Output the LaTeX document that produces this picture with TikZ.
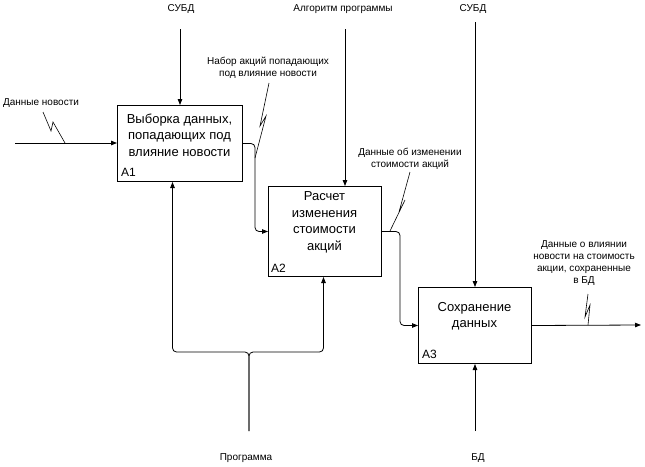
\documentclass[tikz,border=0pt]{standalone}
\usepackage{fontspec}
\setmainfont{Liberation Sans}
\usetikzlibrary{arrows.meta}
\begin{document}
\begin{tikzpicture}[x=1pt,y=-1pt,
  act/.style={draw, line width=1pt, fill=white, inner sep=0pt},
  flow/.style={line width=0.8pt, -{Triangle[length=6pt,width=4.5pt]}, rounded corners=4pt},
  lbl/.style={font=\fontsize{10}{12}\selectfont, align=center, inner sep=0pt},
  boxtxt/.style={font=\fontsize{13}{16.5}\selectfont, align=center, inner sep=0pt},
  boxid/.style={font=\fontsize{12}{14}\selectfont, inner sep=0pt, anchor=base west},
  squig/.style={line width=0.6pt, line join=miter}]
\useasboundingbox (0,0) rectangle (645,466);

% activity boxes
\node[act, minimum width=125pt, minimum height=76pt, anchor=north west] (a1) at (117,105) {};
\node[act, minimum width=113pt, minimum height=90pt, anchor=north west] (a2) at (268,186) {};
\node[act, minimum width=113pt, minimum height=76pt, anchor=north west] (a3) at (418,287) {};

\node[boxtxt] (t1) at (179.5,135) {Выборка данных,\\попадающих под\\влияние новости};
\node[boxtxt] (t2) at (324.5,222.5) {Расчет\\изменения\\стоимости\\акций};
\node[boxtxt] (t3) at (474.5,316.5) {Сохранение\\данных};
\node[boxid] (id1) at (121,176) {A1};
\node[boxid] (id2) at (271,272) {A2};
\node[boxid] (id3) at (422,358) {A3};

% arrow labels
\node[lbl] (lsubd1) at (181,9) {СУБД};
\node[lbl] (lalg) at (343,9) {Алгоритм программы};
\node[lbl] (lsubd2) at (473,9) {СУБД};
\node[lbl] (lnews) at (41,103) {Данные новости};
\node[lbl] (lset) at (268,68) {Набор акций попадающих\\под влияние новости};
\node[lbl] (lchg) at (410,158.5) {Данные об изменении\\стоимости акций};
\node[lbl] (lout) at (584,263.5) {Данные о влиянии\\новости на стоимость\\акции, сохраненные\\в БД};
\node[lbl] (lprog) at (246,458) {Программа};
\node[lbl] (lbd) at (478,458) {БД};

% free ends of boundary arrows
\coordinate (s1) at (180,29);
\coordinate (alg) at (345,29);
\coordinate (s2) at (475,22);
\coordinate (in1) at (15,143);
\coordinate (out3) at (641,325);
\coordinate (p0) at (249,431);
\coordinate (j) at (249,352);
\coordinate (bd0) at (475,431);

% controls
\draw[flow] (s1) -- (s1 |- a1.north);
\draw[flow] (alg) -- (alg |- a2.north);
\draw[flow] (s2) -- (s2 |- a3.north);

% inputs and outputs
\draw[flow] (in1) -- (in1 -| a1.west);
\draw[flow] (a1.east) -- ++(12,0) |- (a2.west);
\draw[flow] (a2.east) -- ++(18,0) |- (a3.west);
\draw[flow] (a3.east) -- (out3);

% mechanisms
\draw[flow] (p0) -- (j) -| ([xshift=-7.5pt]a1.south);
\draw[flow] (p0) -- (j) -| ([xshift=-1.5pt]a2.south);
\draw[flow] (bd0) -- (bd0 |- a3.south);

% label squiggles
\draw[squig] (43,112) -- (51,131) -- (53,122) -- (65,143);
\draw[squig] (269,83) -- (260,126) -- (266,116) -- (255,158);
\draw[squig] (410,172) -- (399,212) -- (405,200) -- (390,231);
\draw[squig] (588,294) -- (585,317) -- (590,305) -- (588,325);
\end{tikzpicture}
\end{document}
